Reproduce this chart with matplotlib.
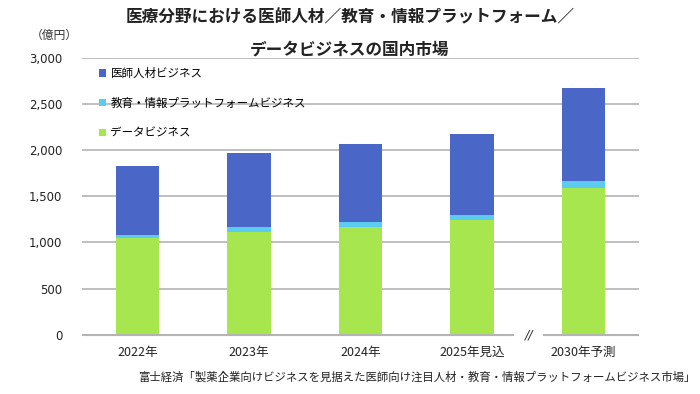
import matplotlib.pyplot as plt
import numpy as np

plt.rcParams['font.family'] = ['Noto Sans CJK JP', 'DejaVu Sans']

# data (億円)
years = ['2022年', '2023年', '2024年', '2025年見込', '2030年予測']
data_biz = [1045, 1117, 1168, 1243, 1585]
edu_platform = [40, 46, 54, 58, 83]
doctor_hr = [745, 801, 839, 872, 1002]
series_names = ['医師人材ビジネス', '教育・情報プラットフォームビジネス', 'データビジネス']

col_doc = '#4A66C6'
col_edu = '#5CCBF0'
col_data = '#A8E650'
grid_col = '#B4B4B4'

fig = plt.figure(figsize=(7, 3.94), dpi=100)
ax = fig.add_axes([0.117, 0.150, 0.796, 0.704])

x = np.arange(len(years))
w = 0.39
b1 = ax.bar(x, data_biz, w, color=col_data, label=series_names[2], zorder=3)
bottom2 = np.array(data_biz)
b2 = ax.bar(x, edu_platform, w, bottom=bottom2, color=col_edu, label=series_names[1], zorder=3)
bottom3 = bottom2 + np.array(edu_platform)
b3 = ax.bar(x, doctor_hr, w, bottom=bottom3, color=col_doc, label=series_names[0], zorder=3)

ax.set_xlim(-0.5, 4.5)
ax.set_ylim(0, 3000)
ax.set_yticks(np.arange(0, 3001, 500))
ax.set_yticklabels([f'{v:,}' for v in range(0, 3001, 500)], fontsize=8.5,
                   family='DejaVu Sans', color='#222222')
ax.set_xticks(x)
ax.set_xticklabels(years, fontsize=9, color='#222222')
ax.tick_params(length=0, pad=8)
ax.tick_params(axis='y', pad=14)

for s in ax.spines.values():
    s.set_visible(False)

for v in range(500, 3001, 500):
    ax.axhline(v, color=grid_col, lw=1.2, zorder=1)

# baseline with break before the forecast year
ax.hlines(0, -0.5, 3.38, color=grid_col, lw=1.5, zorder=4, clip_on=False)
ax.hlines(0, 3.64, 4.5, color=grid_col, lw=1.5, zorder=4, clip_on=False)
ax.text(3.51, 0, '//', ha='center', va='center', fontsize=9, style='italic',
        color='#333333', family='DejaVu Sans')

handles = [b3, b2, b1]
ax.legend(handles, series_names, loc='upper left', bbox_to_anchor=(0.012, 1.003),
          frameon=False, fontsize=8.3, handlelength=0.6, handleheight=0.6,
          handletextpad=0.4, labelspacing=1.45, borderaxespad=0.5)

fig.text(0.5, 0.955, '医療分野における医師人材／教育・情報プラットフォーム／',
         ha='center', va='center', fontsize=12, weight='bold', color='#222222')
fig.text(0.5, 0.875, 'データビジネスの国内市場',
         ha='center', va='center', fontsize=12, weight='bold', color='#222222')
fig.text(0.078, 0.911, '（億円）', ha='center', va='center', fontsize=8.5, color='#333333')
fig.text(0.993, 0.043, '富士経済「製薬企業向けビジネスを見据えた医師向け注目人材・教育・情報プラットフォームビジネス市場」',
         ha='right', va='center', fontsize=8.2, color='#222222')

fig.savefig('out.png', dpi=100)
